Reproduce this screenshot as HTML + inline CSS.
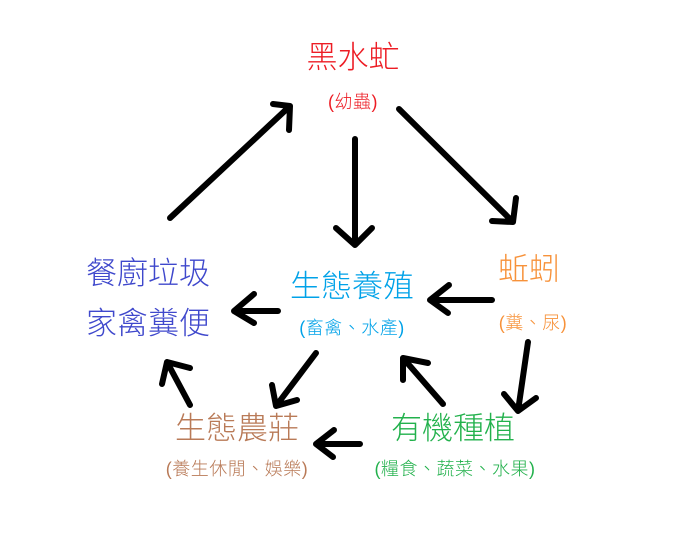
<!DOCTYPE html>
<html><head><meta charset="utf-8"><style>
body{margin:0;width:677px;height:543px;background:#fff;position:relative;overflow:hidden;font-family:"Liberation Sans","Noto Sans CJK TC",sans-serif}
.t{position:absolute;white-space:nowrap;line-height:1;transform:translateX(-50%)}
.b{font-size:31px;font-weight:300}.s{font-size:18px;font-weight:300;letter-spacing:0.5px}
</style></head><body>
<svg width="677" height="543" style="position:absolute;left:0;top:0" fill="none" stroke="#000" stroke-width="6" stroke-linecap="round" stroke-linejoin="round">
<path d="M170 218L290 106M273 104L290 106L289 130"/>
<path d="M355 139L355 245M336 228L355 245L372 228"/>
<path d="M399 109L513 222M492 221L513 222L516 198"/>
<path d="M492 300L430 300M449 285L430 300L448 313"/>
<path d="M278 311L234 311M254 294L234 311L254 323"/>
<path d="M528 342L518 411M504 394L518 411L536 398"/>
<path d="M316 353L276 406M272 385L276 406L297 400"/>
<path d="M443 404L403 358M403 380L403 358L428 363"/>
<path d="M360 444L316 444M334 430L316 444L333 457"/>
<path d="M190 405L167 362M162 384L167 362L190 368"/>
</svg>
<div class="t b" style="left:353px;top:42px;color:#ed1c24">黑水虻</div>
<div class="t s" style="left:353px;top:93px;color:#ed1c24">(幼蟲)</div>
<div class="t b" style="left:529px;top:254px;color:#f7923a">蚯蚓</div>
<div class="t s" style="left:533px;top:314px;color:#f7923a">(糞、尿)</div>
<div class="t b" style="left:352px;top:271px;color:#00a2e8">生態養殖</div>
<div class="t s" style="left:352px;top:319px;color:#00a2e8">(畜禽、水產)</div>
<div class="t b" style="left:148px;top:258px;color:#3f48cc">餐廚垃圾</div>
<div class="t b" style="left:148px;top:308px;color:#3f48cc">家禽糞便</div>
<div class="t b" style="left:237px;top:413px;color:#b97a57">生態農莊</div>
<div class="t s" style="left:237px;top:460px;color:#b97a57">(養生休閒、娛樂)</div>
<div class="t b" style="left:453px;top:413px;color:#22b14c">有機種植</div>
<div class="t s" style="left:455px;top:460px;color:#22b14c">(糧食、蔬菜、水果)</div>
</body></html>
